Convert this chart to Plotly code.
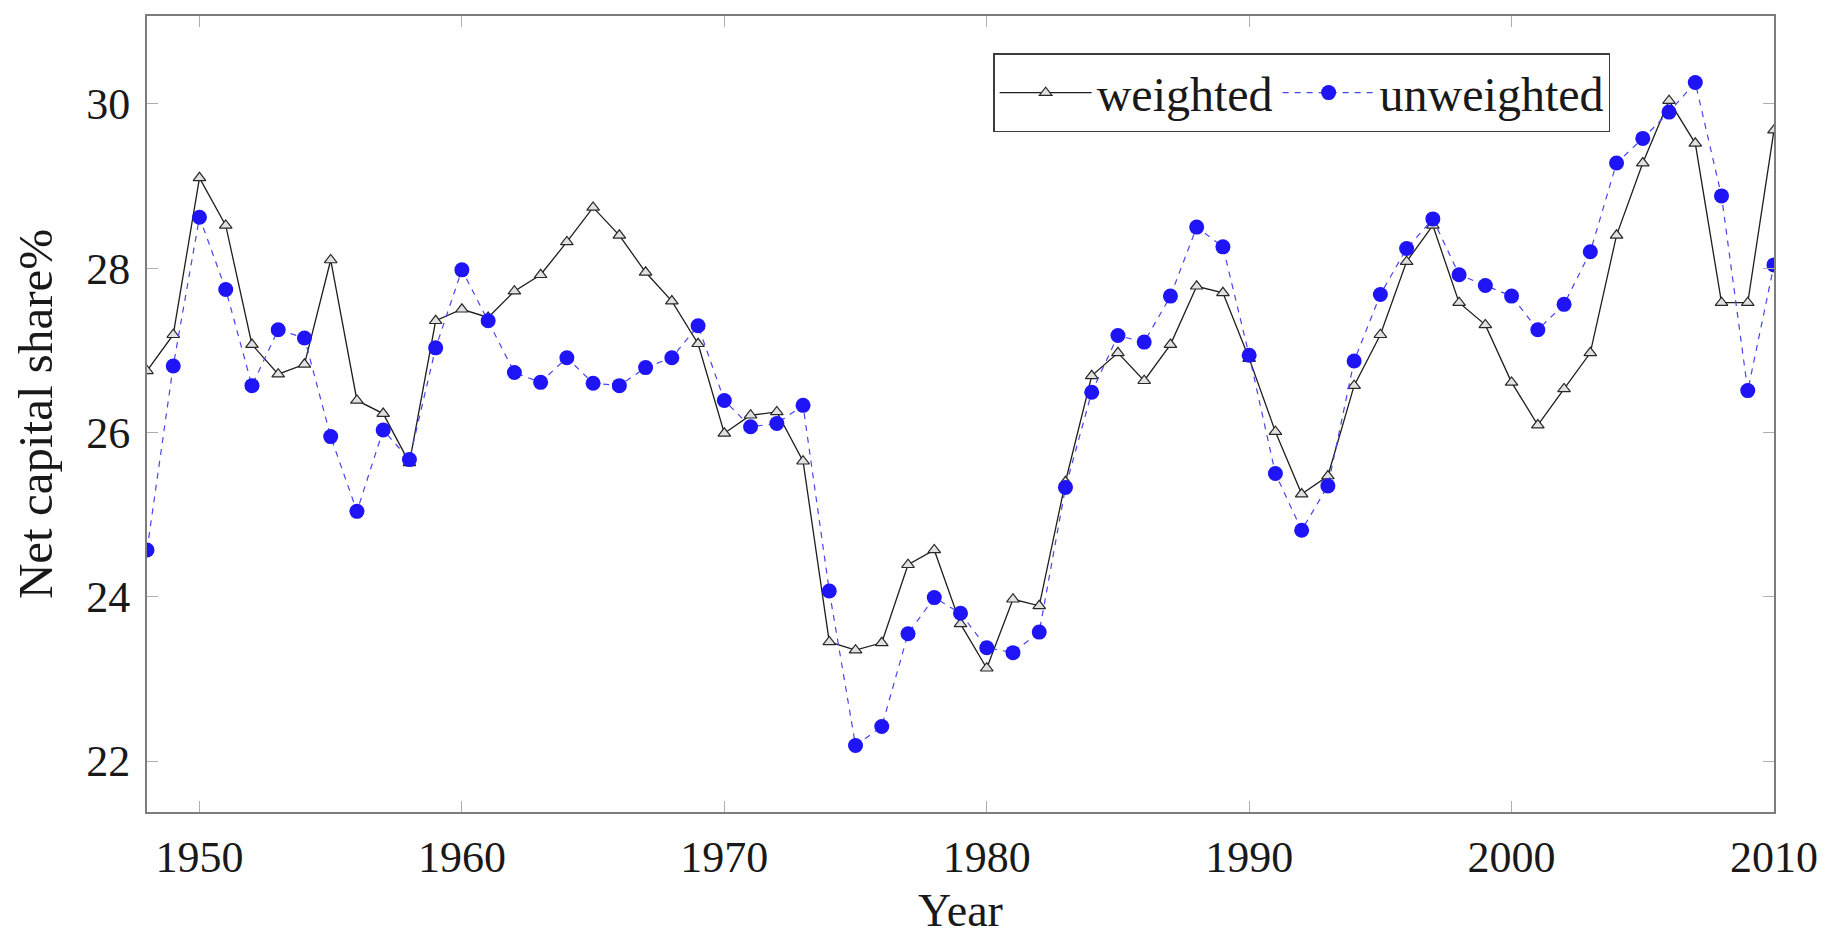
import plotly.graph_objects as go

years = list(range(1948, 2011))

weighted = [
    26.75, 27.19, 29.10, 28.52, 27.07, 26.71, 26.83, 28.10, 26.39, 26.23,
    25.63, 27.36, 27.50, 27.40, 27.72, 27.92, 28.32, 28.74, 28.40, 27.95,
    27.60, 27.08, 25.99, 26.21, 26.25, 25.65, 23.45, 23.35, 23.44, 24.39,
    24.57, 23.67, 23.13, 23.97, 23.89, 25.40, 26.69, 26.97, 26.63, 27.07,
    27.78, 27.70, 26.90, 26.01, 25.25, 25.47, 26.57, 27.19, 28.08, 28.52,
    27.58, 27.31, 26.61, 26.09, 26.53, 26.97, 28.40, 29.28, 30.04, 29.52,
    27.58, 27.58, 29.68,
]

unweighted = [
    24.57, 26.81, 28.62, 27.74, 26.57, 27.25, 27.15, 25.95, 25.04, 26.03,
    25.67, 27.03, 27.98, 27.36, 26.73, 26.61, 26.91, 26.60, 26.57, 26.79,
    26.91, 27.30, 26.39, 26.07, 26.11, 26.33, 24.07, 22.19, 22.42, 23.55,
    23.99, 23.80, 23.38, 23.32, 23.57, 25.33, 26.49, 27.18, 27.10, 27.66,
    28.50, 28.26, 26.94, 25.50, 24.81, 25.35, 26.87, 27.68, 28.24, 28.60,
    27.92, 27.79, 27.66, 27.25, 27.56, 28.20, 29.28, 29.58, 29.90, 30.26,
    28.88, 26.51, 28.04,
]

x_ticks = [1950, 1960, 1970, 1980, 1990, 2000, 2010]
y_ticks = [22, 24, 26, 28, 30]

FONT = "Liberation Serif"

fig = go.Figure()

fig.add_trace(go.Scatter(
    x=years, y=weighted, name="weighted", mode="lines+markers",
    line=dict(color="rgb(30,30,30)", width=1.3),
    marker=dict(symbol="triangle-up", size=11, color="rgb(225,225,225)",
                line=dict(color="rgb(40,40,40)", width=1.2)),
))

fig.add_trace(go.Scatter(
    x=years, y=unweighted, name="unweighted", mode="lines+markers",
    line=dict(color="rgb(70,70,235)", width=1.2, dash="6px,6px"),
    marker=dict(symbol="circle", size=15, color="rgb(30,20,245)",
                line=dict(width=0)),
))

axis_common = dict(
    showline=True, linecolor="rgb(125,125,125)", linewidth=2,
    mirror="ticks", ticks="inside", ticklen=11, tickwidth=1,
    tickcolor="rgb(175,175,175)", showgrid=False, zeroline=False,
    tickfont=dict(family=FONT, size=44, color="rgb(25,25,25)"),
)

# the page body has an 8px default margin; the figure is offset by it
fig.update_layout(
    width=1817, height=928,
    margin=dict(l=138, r=51, t=6, b=117),
    paper_bgcolor="white", plot_bgcolor="white",
    font=dict(family=FONT, color="rgb(25,25,25)"),
    xaxis=dict(
        range=[1948, 2010], tickvals=x_ticks,
        title=dict(text="Year", font=dict(family=FONT, size=46), standoff=16),
        ticklabelstandoff=5,
        **axis_common,
    ),
    yaxis=dict(
        range=[21.38, 31.07], tickvals=y_ticks,
        title=dict(text="Net capital share%", font=dict(family=FONT, size=49), standoff=38),
        ticklabelstandoff=6,
        **axis_common,
    ),
    legend=dict(
        orientation="h", x=0.8993, xanchor="right", y=0.953, yanchor="top",
        bgcolor="white", bordercolor="rgb(60,60,60)", borderwidth=1.5,
        font=dict(family=FONT, size=48, color="rgb(25,25,25)"),
        itemwidth=92,
    ),
    showlegend=True,
)

fig.write_html("out.html")
